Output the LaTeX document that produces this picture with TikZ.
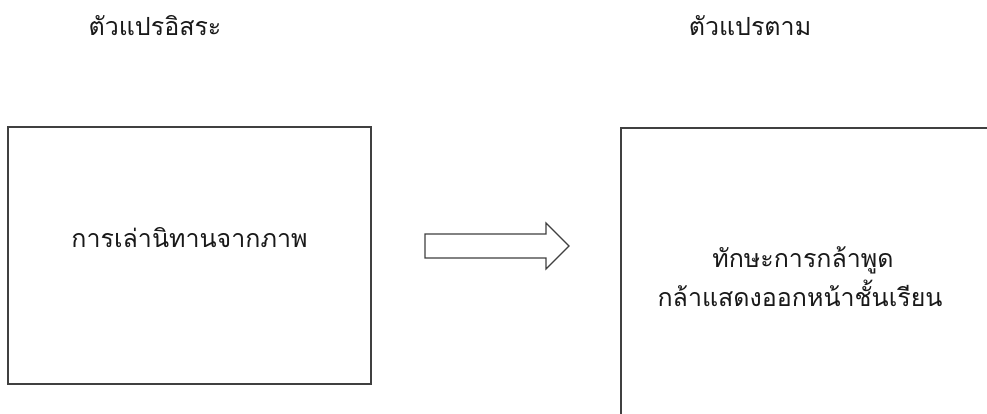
\documentclass[tikz,border=0pt]{standalone}
\usepackage{fontspec}
\newfontfamily\thaifont[Script=Thai]{Loma}
\begin{document}
\begin{tikzpicture}[x=1pt,y=-1pt,
  box/.style={draw=black!75, line width=1.1pt},
  lbl/.style={font=\thaifont\fontsize{25}{30}\selectfont, inner sep=0pt, anchor=base, text=black!90}]
\useasboundingbox (0,0) rectangle (987,414);
\clip (0,0) rectangle (987,414);
\fill[white] (0,0) rectangle (987,414);
\node[lbl] (h1) at (155,36) {ตัวแปรอิสระ};
\node[lbl] (h2) at (750,36) {ตัวแปรตาม};
\draw[box] (8,127) rectangle (371,384);
\node[lbl] (t1) at (189.5,247) {การเล่านิทานจากภาพ};
\draw[box] (621,128) rectangle (1000,430);
\node[lbl] (t2) at (803,267) {ทักษะการกล้าพูด};
\node[lbl] (t3) at (800,306) {กล้าแสดงออกหน้าชั้นเรียน};
\draw[box, line join=miter] (425,234) -- (546,234) -- (546,223) -- (569,246) -- (546,269) -- (546,258) -- (425,258) -- cycle;
\end{tikzpicture}
\end{document}
